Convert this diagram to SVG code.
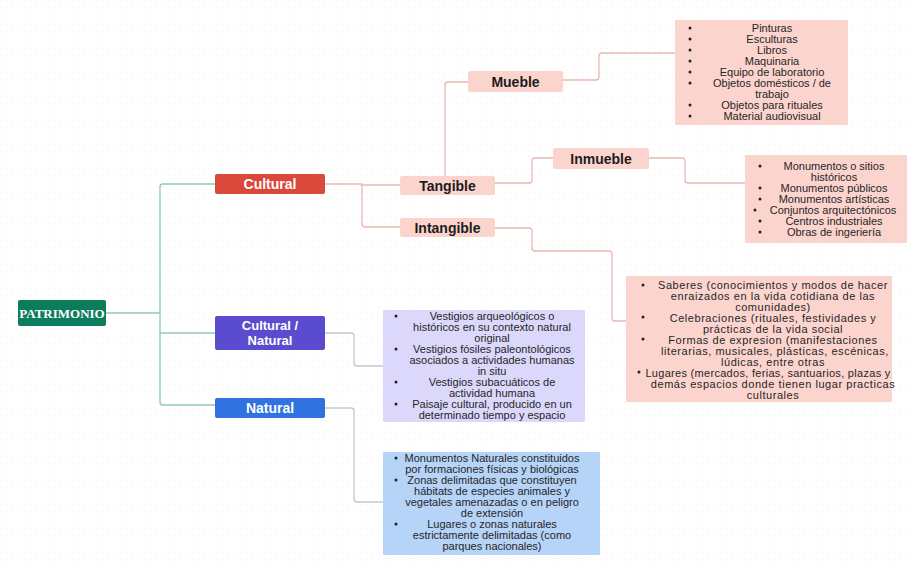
<svg xmlns="http://www.w3.org/2000/svg" width="907" height="565" viewBox="0 0 907 565">
<defs>
<pattern id="grid" width="6" height="6" patternUnits="userSpaceOnUse">
<rect x="0" y="0" width="1" height="1" fill="#f1f1f1"/>
</pattern>
<style>
.bg{fill:#ffffff}
.node-lbl{font-family:"Liberation Sans",Arial,sans-serif;font-size:14px;font-weight:bold;text-anchor:middle}
.sm{font-size:13px}
.dark{fill:#1c1c1c}
.white{fill:#ffffff}
.root-lbl{font-family:"Liberation Serif","Times New Roman",serif;font-size:13px;font-weight:bold;fill:#ffffff;text-anchor:middle}
.pink{fill:#fcd4ce}
.lav{fill:#dcd8fb}
.lblue{fill:#b6d3f8}
.txt{font-family:"Liberation Sans",Arial,sans-serif;font-size:11px;fill:#262626;text-anchor:middle}
.txtw{font-family:"Liberation Sans",Arial,sans-serif;font-size:11px;letter-spacing:0.55px;fill:#262626;text-anchor:middle}
.bul{fill:#222222}
.cg{fill:none;stroke:#8fcab5;stroke-width:1.3}
.cp{fill:none;stroke:#eab8b3;stroke-width:1.3}
.cv{fill:none;stroke:#c6c6ce;stroke-width:1.3}
</style>
</defs>
<rect class="bg" x="0" y="0" width="907" height="565"/>
<rect x="0" y="0" width="907" height="565" fill="url(#grid)"/>

<g id="connectors">
<path class="cg" d="M106,313 H160"/>
<path class="cg" d="M215,184 H163 Q160,184 160,187 V402 Q160,405 163,405 H215"/>
<path class="cg" d="M160,333 H215"/>
<path class="cp" d="M325,184 H362 V185 H400"/>
<path class="cp" d="M362,185 V224 Q362,227 365,227 H400"/>
<path class="cp" d="M445,176 V85 Q445,82 448,82 H468"/>
<path class="cp" d="M495,183 H529 Q532,183 532,180 V161 Q532,158 535,158 H553"/>
<path class="cp" d="M563,80 H596 Q599,80 599,77 V56 Q599,53 602,53 H675"/>
<path class="cp" d="M649,158 H682 Q685,158 685,161 V180 Q685,183 688,183 H745"/>
<path class="cp" d="M495,228 H529 Q532,228 532,231 V248 Q532,251 535,251 H609 Q612,251 612,254 V318 Q612,321 615,321 H626"/>
<path class="cv" d="M325,333 H351 Q354,333 354,336 V363 Q354,366 357,366 H383"/>
<path class="cv" d="M325,408 H351 Q354,408 354,411 V499 Q354,502 357,502 H383"/>
</g>

<g id="patrimonio">
<rect x="18" y="300" width="88" height="26" rx="2" fill="#0b7d5c"/>
<text class="root-lbl" x="62" y="318">PATRIMONIO</text>
</g>

<g id="cultural">
<rect x="215" y="174" width="110" height="20" rx="2" fill="#d9483b"/>
<text class="node-lbl white" x="270" y="189">Cultural</text>
</g>

<g id="cultural-natural">
<rect x="215" y="316" width="110" height="34" rx="2" fill="#5a4bcf"/>
<text class="node-lbl sm white" x="270" y="330">Cultural /</text>
<text class="node-lbl sm white" x="270" y="345">Natural</text>
</g>

<g id="natural">
<rect x="215" y="398" width="110" height="20" rx="2" fill="#2f72e0"/>
<text class="node-lbl white" x="270" y="413">Natural</text>
</g>

<g id="tangible">
<rect class="pink" x="400" y="176" width="95" height="19" rx="2"/>
<text class="node-lbl dark" x="447.5" y="190.5">Tangible</text>
</g>

<g id="intangible">
<rect class="pink" x="400" y="218" width="95" height="19" rx="2"/>
<text class="node-lbl dark" x="447.5" y="232.5">Intangible</text>
</g>

<g id="mueble">
<rect class="pink" x="468" y="71" width="95" height="21" rx="2"/>
<text class="node-lbl dark" x="515.5" y="86.5">Mueble</text>
</g>

<g id="inmueble">
<rect class="pink" x="553" y="148" width="96" height="21" rx="2"/>
<text class="node-lbl dark" x="601" y="163.5">Inmueble</text>
</g>

<g id="mueble-list">
<rect class="pink" x="675" y="20" width="173" height="105" rx="1"/>
<circle class="bul" cx="690" cy="28" r="1.5"/>
<circle class="bul" cx="690" cy="39" r="1.5"/>
<circle class="bul" cx="690" cy="50" r="1.5"/>
<circle class="bul" cx="690" cy="61" r="1.5"/>
<circle class="bul" cx="690" cy="72" r="1.5"/>
<circle class="bul" cx="690" cy="83" r="1.5"/>
<circle class="bul" cx="690" cy="105" r="1.5"/>
<circle class="bul" cx="690" cy="116" r="1.5"/>
<text class="txt" x="772" y="32">Pinturas</text>
<text class="txt" x="772" y="43">Esculturas</text>
<text class="txt" x="772" y="54">Libros</text>
<text class="txt" x="772" y="65">Maquinaria</text>
<text class="txt" x="772" y="76">Equipo de laboratorio</text>
<text class="txt" x="772" y="87">Objetos domésticos / de</text>
<text class="txt" x="772" y="98">trabajo</text>
<text class="txt" x="772" y="109">Objetos para rituales</text>
<text class="txt" x="772" y="120">Material audiovisual</text>
</g>

<g id="inmueble-list">
<rect class="pink" x="745" y="155" width="162" height="88" rx="1"/>
<circle class="bul" cx="760" cy="166" r="1.5"/>
<circle class="bul" cx="760" cy="188" r="1.5"/>
<circle class="bul" cx="760" cy="199" r="1.5"/>
<circle class="bul" cx="755" cy="210" r="1.5"/>
<circle class="bul" cx="760" cy="221" r="1.5"/>
<circle class="bul" cx="760" cy="232" r="1.5"/>
<text class="txt" x="834" y="170">Monumentos o sitios</text>
<text class="txt" x="834" y="181">históricos</text>
<text class="txt" x="834" y="192">Monumentos públicos</text>
<text class="txt" x="834" y="203">Monumentos artísticas</text>
<text class="txt" x="833" y="214">Conjuntos arquitectónicos</text>
<text class="txt" x="834" y="225">Centros industriales</text>
<text class="txt" x="834" y="236">Obras de ingeriería</text>
</g>

<g id="intangible-list">
<rect class="pink" x="626" y="276" width="266" height="126" rx="1"/>
<circle class="bul" cx="643" cy="285" r="1.5"/>
<circle class="bul" cx="643" cy="317" r="1.5"/>
<circle class="bul" cx="643" cy="339" r="1.5"/>
<circle class="bul" cx="639" cy="372" r="1.5"/>
<text class="txtw" x="773" y="289">Saberes (conocimientos y modos de hacer</text>
<text class="txtw" x="773" y="300">enraizados en la vida cotidiana de las</text>
<text class="txtw" x="773" y="311">comunidades)</text>
<text class="txtw" x="773" y="322">Celebraciones (rituales, festividades y</text>
<text class="txtw" x="773" y="333">prácticas de la vida social</text>
<text class="txtw" x="773" y="344">Formas de expresion (manifestaciones</text>
<text class="txtw" x="775" y="355">literarias, musicales, plásticas, escénicas,</text>
<text class="txtw" x="773" y="366">lúdicas, entre otras</text>
<text class="txtw" x="768" y="377" style="letter-spacing:0.3px">Lugares (mercados, ferias, santuarios, plazas y</text>
<text class="txtw" x="773" y="388">demás espacios donde tienen lugar practicas</text>
<text class="txtw" x="773" y="399">culturales</text>
</g>

<g id="cultural-natural-list">
<rect class="lav" x="383" y="310" width="202" height="112" rx="1"/>
<circle class="bul" cx="396" cy="316" r="1.5"/>
<circle class="bul" cx="396" cy="349" r="1.5"/>
<circle class="bul" cx="396" cy="382" r="1.5"/>
<circle class="bul" cx="396" cy="404" r="1.5"/>
<text class="txt" x="492" y="320">Vestigios arqueológicos o</text>
<text class="txt" x="492" y="331">históricos en su contexto natural</text>
<text class="txt" x="492" y="342">original</text>
<text class="txt" x="492" y="353">Vestigios fósiles paleontológicos</text>
<text class="txt" x="492" y="364">asociados a actividades humanas</text>
<text class="txt" x="492" y="375">in situ</text>
<text class="txt" x="492" y="386">Vestigios subacuáticos de</text>
<text class="txt" x="492" y="397">actividad humana</text>
<text class="txt" x="492" y="408">Paisaje cultural, producido en un</text>
<text class="txt" x="492" y="419">determinado tiempo y espacio</text>
</g>

<g id="natural-list">
<rect class="lblue" x="383" y="452" width="217" height="103" rx="1"/>
<circle class="bul" cx="396" cy="458" r="1.5"/>
<circle class="bul" cx="396" cy="480" r="1.5"/>
<circle class="bul" cx="396" cy="524" r="1.5"/>
<text class="txt" x="492" y="462">Monumentos Naturales constituidos</text>
<text class="txt" x="492" y="473">por formaciones físicas y biológicas</text>
<text class="txt" x="492" y="484">Zonas delimitadas que constituyen</text>
<text class="txt" x="492" y="495">hábitats de especies animales y</text>
<text class="txt" x="492" y="506">vegetales amenazadas o en peligro</text>
<text class="txt" x="492" y="517">de extensión</text>
<text class="txt" x="492" y="528">Lugares o zonas naturales</text>
<text class="txt" x="492" y="539">estrictamente delimitadas (como</text>
<text class="txt" x="492" y="550">parques nacionales)</text>
</g>
</svg>
